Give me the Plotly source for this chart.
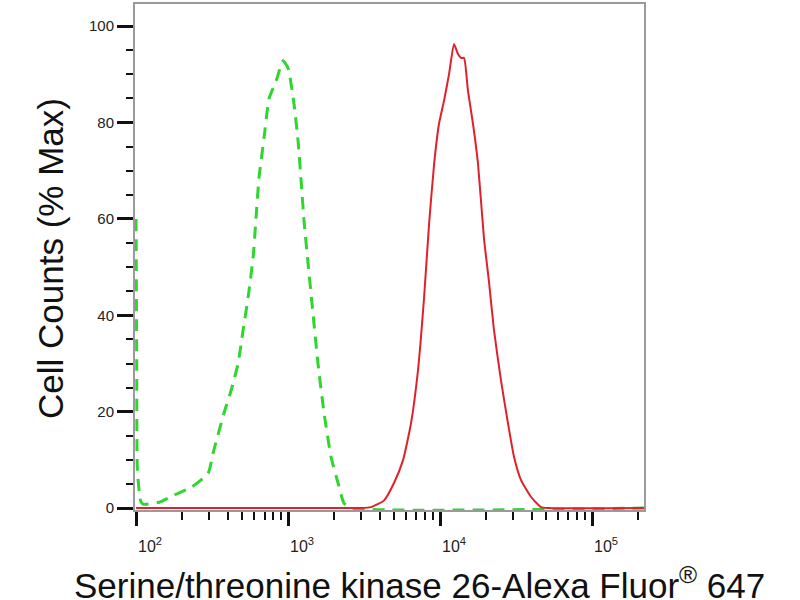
import plotly.graph_objs as go

# fluorescence intensity (linear units) and % max for the isotype control (green, dashed)
control_x = [100, 101, 102, 107, 111, 142, 178, 230, 298, 321, 379, 422, 469, 506, 546, 589,
             615, 644, 695, 750, 834, 927, 1000, 1094, 1164, 1219, 1274, 1355, 1459, 1574,
             1726, 1919, 2133, 2333, 2570, 220000]
control_y = [60, 30, 8, 1.5, 0.8, 1.2, 2.7, 4.3, 7.2, 11.4, 19.7, 24.4, 30, 36.9, 43.7, 52,
             60, 68.5, 76.8, 85, 88.6, 92.8, 91.3, 83.9, 76.2, 67.9, 59.6, 50.7, 40.4, 30,
             19.7, 10.6, 5.2, 1, 0, 0]

# stained sample (red, solid)
sample_x = [100, 2234, 3020, 3516, 4285, 4977, 5715, 6442, 7161, 7852, 8472, 9141, 9840,
            10617, 11455, 12359, 13122, 13740, 14388, 15276, 16482, 17783, 19454, 20989,
            22646, 25177, 27990, 30690, 34119, 39719, 46132, 51404, 220000]
sample_y = [0, 0, 0, 0.2, 1.6, 5.2, 10, 17.6, 28.6, 43.7, 59, 71.4, 79.7, 84.5, 90, 96.3,
            94.2, 93.4, 93.4, 86.5, 79.7, 71.4, 56, 47, 36.9, 26.5, 17.6, 10.6, 5.8, 2.3,
            0.2, 0, 0]

x_tick_vals = [100, 1000, 10000, 100000]
x_tick_text = ["10<sup>2</sup>", "10<sup>3</sup>", "10<sup>4</sup>", "10<sup>5</sup>"]
x_minor_vals = [m * d for d in (100, 1000, 10000) for m in range(2, 10)] + [200000]
y_tick_vals = [0, 20, 40, 60, 80, 100]

x_title = "Serine/threonine kinase 26-Alexa Fluor<sup>®</sup> 647"
y_title = "Cell Counts (% Max)"

font = "Arial, Liberation Sans, sans-serif"

control = go.Scatter(x=control_x, y=control_y, mode="lines",
                     line=dict(color="#2ed62e", width=3, dash="12px,8px",
                               shape="spline", smoothing=0.5))
sample = go.Scatter(x=sample_x, y=sample_y, mode="lines",
                    line=dict(color="#e0202a", width=2, shape="spline", smoothing=0.5))

xaxis = go.layout.XAxis(type="log", range=[1.993, 5.342],
                        showline=True, linecolor="#9a9a9a", linewidth=2, mirror=True,
                        showgrid=False, zeroline=False, layer="below traces",
                        tickvals=x_tick_vals, ticktext=x_tick_text,
                        ticks="outside", ticklen=14, tickwidth=3, tickcolor="#111",
                        ticklabelshift=14, ticklabelstandoff=7,
                        tickfont=dict(family=font, size=16, color="#222"),
                        minor=dict(tickvals=x_minor_vals, ticks="outside", ticklen=8,
                                   tickwidth=2, tickcolor="#111", showgrid=False))

yaxis = go.layout.YAxis(range=[-0.4, 104.6],
                        showline=True, linecolor="#9a9a9a", linewidth=2, mirror=True,
                        showgrid=False, zeroline=False, layer="below traces",
                        tickvals=y_tick_vals,
                        ticks="outside", ticklen=16, tickwidth=3, tickcolor="#111",
                        tickfont=dict(family=font, size=15, color="#222"),
                        minor=dict(dtick=5, ticks="outside", ticklen=7, tickwidth=2,
                                   tickcolor="#111", showgrid=False))

layout = go.Layout(width=800, height=600, showlegend=False,
                   margin=dict(l=135, r=156, t=2, b=90),
                   paper_bgcolor="white", plot_bgcolor="white",
                   xaxis=xaxis, yaxis=yaxis,
                   annotations=[
                       dict(text=x_title, xref="paper", yref="paper", x=0.558, y=-0.1437,
                            xanchor="center", yanchor="middle", showarrow=False,
                            font=dict(family=font, size=35, color="#111")),
                       dict(text=y_title, xref="paper", yref="paper", x=-0.167, y=0.498,
                            xanchor="center", yanchor="middle", textangle=-90,
                            showarrow=False,
                            font=dict(family=font, size=35, color="#111")),
                   ])

fig = go.Figure(data=[control, sample], layout=layout)
# drop the page's default body margin so the figure sits at the top-left corner
fig.write_html("out.html", config={"displayModeBar": False},
               post_script="document.body.style.margin = '0';")
